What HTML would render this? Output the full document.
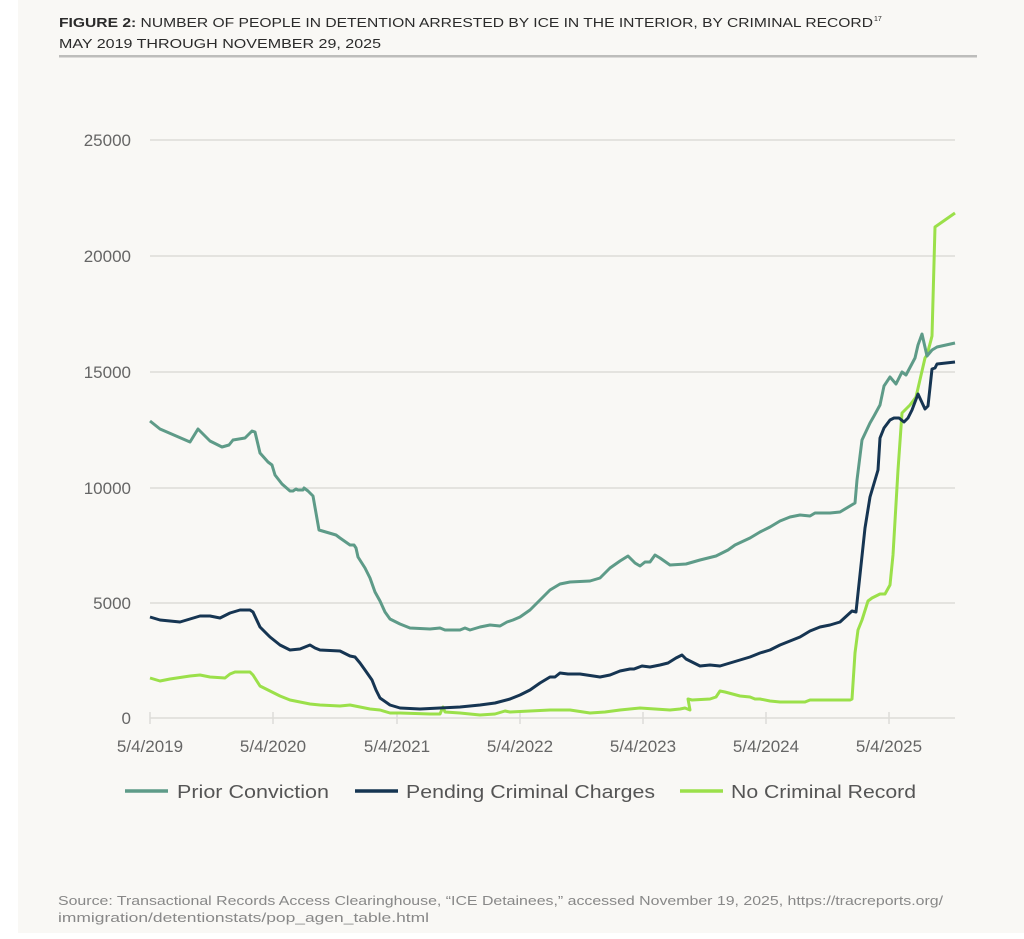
<!DOCTYPE html>
<html><head><meta charset="utf-8"><style>
html,body{margin:0;padding:0;background:#fff;}
svg{display:block;font-family:"Liberation Sans",sans-serif;}
</style></head><body>
<svg width="1024" height="939" viewBox="0 0 1024 939" xmlns="http://www.w3.org/2000/svg">
<rect x="18" y="0" width="1006" height="933" fill="#f9f8f5"/>
<text x="59" y="27" font-size="12.5" font-weight="bold" fill="#2b2b2b" textLength="814" lengthAdjust="spacingAndGlyphs">FIGURE 2: <tspan font-weight="normal">NUMBER OF PEOPLE IN DETENTION ARRESTED BY ICE IN THE INTERIOR, BY CRIMINAL RECORD</tspan></text>
<text x="874" y="21" font-size="7" fill="#2b2b2b">17</text>
<text x="59" y="48" font-size="12.5" fill="#2b2b2b" textLength="322" lengthAdjust="spacingAndGlyphs">MAY 2019 THROUGH NOVEMBER 29, 2025</text>
<rect x="59" y="55" width="918" height="2.5" fill="#bdbdbb"/>
<g stroke="#dddcd8" stroke-width="1.5">
<line x1="150" y1="140" x2="955" y2="140"/><line x1="150" y1="256" x2="955" y2="256"/>
<line x1="150" y1="372" x2="955" y2="372"/><line x1="150" y1="488" x2="955" y2="488"/>
<line x1="150" y1="603" x2="955" y2="603"/><line x1="150" y1="718" x2="955" y2="718"/>
<line x1="150" y1="712" x2="150" y2="724"/><line x1="273" y1="712" x2="273" y2="724"/>
<line x1="397" y1="712" x2="397" y2="724"/><line x1="520" y1="712" x2="520" y2="724"/>
<line x1="643" y1="712" x2="643" y2="724"/><line x1="766" y1="712" x2="766" y2="724"/>
<line x1="889" y1="712" x2="889" y2="724"/>
</g>
<g font-size="17" fill="#666" text-anchor="end">
<text x="131" y="146">25000</text><text x="131" y="262">20000</text><text x="131" y="378">15000</text>
<text x="131" y="494">10000</text><text x="131" y="609">5000</text><text x="131" y="724">0</text>
</g>
<g font-size="17" fill="#666" text-anchor="middle">
<text x="150" y="752">5/4/2019</text><text x="273" y="752">5/4/2020</text><text x="397" y="752">5/4/2021</text>
<text x="520" y="752">5/4/2022</text><text x="643" y="752">5/4/2023</text><text x="766" y="752">5/4/2024</text>
<text x="889" y="752">5/4/2025</text>
</g>
<g fill="none" stroke-width="3" stroke-linejoin="round">
<polyline stroke="#9be04a" points="150,678 160,681 170,679 190,676 200,675 210,677 225,678 230,674 235,672 250,672 253,675 260,686 270,691 280,696 290,700 300,702 310,704 320,705 340,706 350,705 360,707 370,709 380,710 390,713 400,713 430,714 440,714 443,707 445,712 460,713 480,715 495,714 505,711 510,712 530,711 550,710 570,710 590,713 605,712 620,710 640,708 655,709 670,710 680,709 685,708 690,710 688,699 692,700 710,699 716,697 720,691 725,692 740,696 750,697 755,699 760,699 770,701 780,702 795,702 805,702 810,700 830,700 850,700 852,699 855,653 858,630 862,620 868,601 872,598 880,594 885,594 890,585 893,555 898,470 902,413 910,405 916,397 925,358 927,355 931,340 932,336 935,227 955,213"/>
<polyline stroke="#5e9b88" points="150,421 160,429 190,442 198,429 210,441 222,447 229,445 233,440 245,438 252,431 255,432 260,453 268,462 272,465 275,475 282,484 290,491 293,491 296,489 298,490 303,490 304,488 308,491 313,496 319,530 336,535 340,538 350,545 354,545 356,548 358,557 365,568 370,578 375,592 380,601 385,612 390,619 400,624 410,628 430,629 440,628 445,630 460,630 465,628 470,630 480,627 490,625 500,626 507,622 513,620 520,617 530,610 540,600 550,590 560,584 570,582 590,581 600,578 610,568 620,561 628,556 635,563 640,566 645,562 650,562 655,555 660,558 670,565 686,564 700,560 716,556 728,550 735,545 750,538 760,532 770,527 780,521 790,517 800,515 810,516 815,513 830,513 840,512 850,506 855,503 857,480 862,440 870,423 874,416 880,405 884,386 890,377 896,384 902,372 906,375 915,358 918,345 922,334 927,356 932,350 937,347 955,343"/>
<polyline stroke="#163552" points="150,617 160,620 180,622 190,619 200,616 210,616 220,618 230,613 240,610 250,610 253,612 260,627 270,637 280,645 290,650 300,649 310,645 315,648 320,650 340,651 350,656 355,657 360,663 365,670 372,680 376,690 380,698 390,705 400,708 420,709 440,708 460,707 480,705 495,703 510,699 520,695 530,690 540,683 550,677 555,677 560,673 568,674 580,674 600,677 610,675 620,671 630,669 634,669 642,666 650,667 660,665 668,663 676,658 682,655 686,659 690,661 700,666 710,665 720,666 730,663 740,660 750,657 760,653 770,650 780,645 790,641 800,637 810,631 820,627 830,625 840,622 852,611 856,612 865,528 870,497 878,470 880,438 884,428 890,420 894,418 899,418 904,422 908,418 912,410 918,394 925,409 928,406 932,369 935,368 937,364 955,362"/>
</g>
<g stroke-width="3.5">
<line x1="125" y1="791" x2="168" y2="791" stroke="#5e9b88"/>
<line x1="355" y1="791" x2="398" y2="791" stroke="#163552"/>
<line x1="680" y1="791" x2="723" y2="791" stroke="#9be04a"/>
</g>
<g font-size="18" fill="#555">
<text x="177" y="798" textLength="152" lengthAdjust="spacingAndGlyphs">Prior Conviction</text>
<text x="406" y="798" textLength="249" lengthAdjust="spacingAndGlyphs">Pending Criminal Charges</text>
<text x="731" y="798" textLength="185" lengthAdjust="spacingAndGlyphs">No Criminal Record</text>
</g>
<g font-size="13" fill="#888">
<text x="58" y="905" textLength="885" lengthAdjust="spacingAndGlyphs">Source: Transactional Records Access Clearinghouse, “ICE Detainees,” accessed November 19, 2025, https://tracreports.org/</text>
<text x="58" y="922" textLength="371" lengthAdjust="spacingAndGlyphs">immigration/detentionstats/pop_agen_table.html</text>
</g>
</svg>
</body></html>
